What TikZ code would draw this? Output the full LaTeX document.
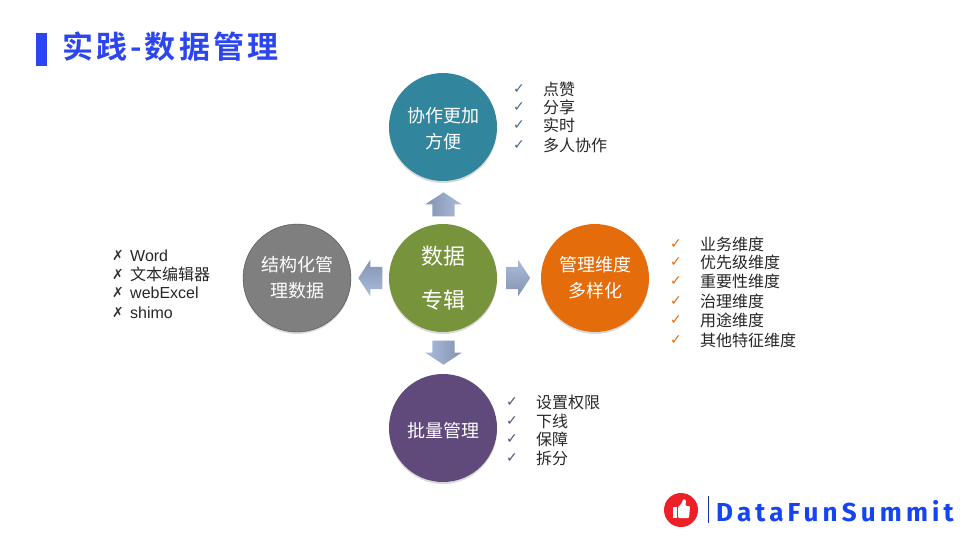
\documentclass[tikz,border=0pt]{standalone}
\usepackage{fontspec}
\setmainfont{Noto Sans CJK SC}
\newfontfamily\latinfont{Liberation Sans}
\newfontfamily\symbolfont{DejaVu Sans}
\newfontfamily\titlefont[LetterSpace=10]{Noto Sans CJK SC Bold}
\newfontfamily\logofont[LetterSpace=16]{Fira Sans Bold}
\usetikzlibrary{shadows,shapes.arrows}
\definecolor{titleblue}{HTML}{2B45F0}
\definecolor{logoblue}{HTML}{1444F4}
\definecolor{logored}{HTML}{EE2027}
\definecolor{hubteal}{HTML}{31859C}
\definecolor{hubgreen}{HTML}{77933C}
\definecolor{huborange}{HTML}{E46C0A}
\definecolor{hubpurple}{HTML}{604A7B}
\definecolor{hubgray}{HTML}{7F7F7F}
\definecolor{tickblue}{HTML}{4A6596}
\definecolor{arrowtop}{HTML}{AABBDC}
\definecolor{arrowbottom}{HTML}{8593B0}
\tikzset{
  hub/.style={circle,minimum size=108pt,inner sep=0pt,text=white,font=\fontsize{18}{26}\selectfont,
    align=center,drop shadow={shadow xshift=0pt,shadow yshift=-2pt,opacity=.3}},
  blockarrow/.style={single arrow,minimum height=24pt,single arrow head extend=7pt,single arrow tip angle=113,
    inner xsep=0pt,inner ysep=11pt,rotate=#1,top color=arrowtop,bottom color=arrowbottom,shading angle=-#1},
  item/.style={anchor=west,inner sep=0pt,yshift=-.3pt,font=\fontsize{16}{16}\selectfont,text=black!85},
  tick/.style={inner sep=0pt,font=\symbolfont\fontsize{14}{16}\selectfont}
}
\begin{document}
\begin{tikzpicture}[x=1pt,y=-1pt]
  \useasboundingbox (0,0) rectangle (960,540);

  \fill [titleblue] (36,33) rectangle (47,66);
  \node [anchor=west,inner sep=0pt,text=titleblue,font=\titlefont\fontsize{31}{32}\selectfont] (title) at (62,47) {实践-数据管理};

  \node [hub,fill=hubteal] (collab) at (443,127) {\rule{0pt}{18pt}协作更加\\方便};
  \node [hub,fill=hubgray,draw=black!70] (struct) at (297,278) {结构化管\\理数据};
  \node [hub,fill=hubgreen,font=\fontsize{22}{44}\selectfont] (data) at (443,278) {数据\\专辑};
  \node [hub,fill=huborange] (dims) at (595,278) {管理维度\\多样化};
  \node [hub,fill=hubpurple] (batch) at (443,428) {\rule{0pt}{20pt}批量管理};

  \node [blockarrow=90] (aup) at (443.5,208) {};
  \node [blockarrow=180] (aleft) at (374,278) {};
  \node [blockarrow=0] (aright) at (514.5,278) {};
  \node [blockarrow=270] (adown) at (443.5,349) {};

  \foreach \n/\y/\t in {1/89/点赞,2/107/分享,3/125/实时,4/145/多人协作} {
    \node [tick,text=tickblue] (ct\n) at (519,\y) {✓};
    \node [item] (c\n) at (543,\y) {\t};
  }
  \foreach \n/\y/\t in {1/244/业务维度,2/262/优先级维度,3/281/重要性维度,4/301/治理维度,5/320/用途维度,6/340/其他特征维度} {
    \node [tick,text=huborange] (dt\n) at (676,\y) {✓};
    \node [item] (d\n) at (700,\y) {\t};
  }
  \foreach \n/\y/\t in {1/402/设置权限,2/421/下线,3/439/保障,4/458/拆分} {
    \node [tick,text=hubpurple] (bt\n) at (512,\y) {✓};
    \node [item] (b\n) at (536,\y) {\t};
  }
  \foreach \n/\y/\t in {1/255/{\latinfont Word},2/274/文本编辑器,3/292/{\latinfont webExcel},4/312/{\latinfont shimo}} {
    \node [tick,text=black!80] (st\n) at (118,\y) {✗};
    \node [item] (s\n) at (130,\y) {\t};
  }

  \node [circle,fill=logored,minimum size=34pt,inner sep=0pt] (logo) at (681,510) {};
  \fill [white] (673,507) rectangle (677,518);
  \fill [white,rounded corners=1pt] (678,507) -- (682,503) -- (683,499) -- (686,500) -- (685.5,506)
    -- (690,506) -- (689,518) -- (678,518) -- cycle;
  \fill [logoblue!70!black] (707.5,496) rectangle (708.5,523);
  \node [anchor=west,inner sep=0pt,text=logoblue,font=\logofont\fontsize{26}{28}\selectfont] (brand) at (716,511) {DataFunSummit};
\end{tikzpicture}
\end{document}
